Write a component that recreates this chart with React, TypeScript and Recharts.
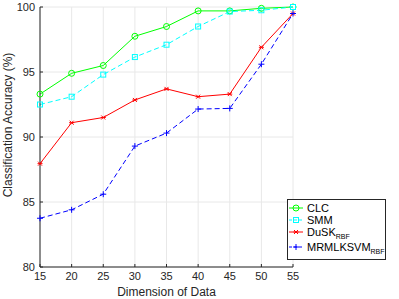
import React from "react";
import { CartesianGrid, Legend, Line, LineChart, XAxis, YAxis } from "recharts";

const dims = [15, 20, 25, 30, 35, 40, 45, 50, 55];
const clc = [93.3, 94.9, 95.5, 97.75, 98.5, 99.7, 99.7, 99.9, 100];
const smm = [92.5, 93.1, 94.8, 96.15, 97.1, 98.5, 99.65, 99.75, 100];
const dusk = [87.95, 91.1, 91.5, 92.85, 93.7, 93.1, 93.3, 96.9, 99.5];
const mrml = [83.75, 84.4, 85.6, 89.3, 90.3, 92.15, 92.2, 95.6, 99.5];
const xTicks = [15, 20, 25, 30, 35, 40, 45, 50, 55];
const yTicks = [80, 85, 90, 95, 100];

const data = dims.map((d, i) => ({ dim: d, clc: clc[i], smm: smm[i], dusk: dusk[i], mrml: mrml[i] }));

const font = "'Liberation Sans', Arial, sans-serif";
const axisColor = "#262626";

const Circle = (p: any) => (
  <circle key={p.index} cx={p.cx} cy={p.cy} r={3} fill="none" stroke="#00ff00" strokeWidth={1} />
);
const Square = (p: any) => (
  <rect key={p.index} x={p.cx - 2.5} y={p.cy - 2.5} width={5} height={5} fill="none" stroke="#00ffff" strokeWidth={1} />
);
const Star = (p: any) => (
  <path
    key={p.index}
    d={`M${p.cx - 2},${p.cy - 2}L${p.cx + 2},${p.cy + 2}M${p.cx - 2},${p.cy + 2}L${p.cx + 2},${p.cy - 2}M${p.cx - 2.5},${p.cy}L${p.cx + 2.5},${p.cy}`}
    stroke="#ff0000"
    strokeWidth={1}
  />
);
const Plus = (p: any) => (
  <path key={p.index} d={`M${p.cx - 3},${p.cy}L${p.cx + 3},${p.cy}M${p.cx},${p.cy - 3}L${p.cx},${p.cy + 3}`} stroke="#0000ff" strokeWidth={1} />
);

const legendItems = [
  { name: "CLC", sub: "", color: "#00ff00", dash: undefined, Mark: Circle },
  { name: "SMM", sub: "", color: "#00ffff", dash: "3 2", Mark: Square },
  { name: "DuSK", sub: "RBF", color: "#ff0000", dash: undefined, Mark: Star },
  { name: "MRMLKSVM", sub: "RBF", color: "#0000ff", dash: "3 2", Mark: Plus },
];

function LegendBox() {
  const rows = [9, 21, 33, 48];
  return (
    <svg width={99} height={61} style={{ display: "block" }}>
      <rect x={0.5} y={0.5} width={98} height={60} fill="#fff" stroke={axisColor} strokeWidth={1} />
      {legendItems.map((it, i) => (
        <g key={it.name}>
          <line x1={2} x2={16} y1={rows[i]} y2={rows[i]} stroke={it.color} strokeWidth={1} strokeDasharray={it.dash} />
          <it.Mark cx={9} cy={rows[i]} index={i} />
          <text x={20} y={rows[i] + 4} fontSize={11} fill="#000" fontFamily={font}>
            {it.name}
            {it.sub && (
              <tspan fontSize={7} dy={3}>
                {it.sub}
              </tspan>
            )}
          </text>
        </g>
      ))}
    </svg>
  );
}

const YLabel = () => (
  <text
    x={12}
    y={125}
    transform="rotate(-90 12 125)"
    textAnchor="middle"
    fontSize={12}
    fill={axisColor}
    fontFamily={font}
  >
    Classification Accuracy (%)
  </text>
);

export default function App() {
  return (
    <div style={{ position: "absolute", left: 0, top: 0, background: "#fff" }}>
      <LineChart width={399} height={299} data={data} margin={{ top: 7, right: 7, left: 0, bottom: 0 }}>
        <CartesianGrid stroke="#e8e8e8" strokeWidth={1} />
        <XAxis
          dataKey="dim"
          type="number"
          domain={[15, 55]}
          ticks={xTicks}
          height={32}
          stroke={axisColor}
          tickSize={-3}
          tickMargin={8}
          tick={{ fontSize: 11, fill: axisColor, fontFamily: font }}
          label={{ value: "Dimension of Data", position: "insideBottom", offset: 3, fontSize: 12, fill: axisColor, fontFamily: font }}
        />
        <XAxis xAxisId="top" dataKey="dim" type="number" domain={[15, 55]} orientation="top" height={0} ticks={xTicks} tick={false} tickSize={-3} stroke={axisColor} />
        <YAxis
          type="number"
          domain={[80, 100]}
          ticks={yTicks}
          width={40}
          stroke={axisColor}
          tickSize={-3}
          tickMargin={8}
          tick={{ fontSize: 11, fill: axisColor, fontFamily: font }}
          label={YLabel}
        />
        <YAxis yAxisId="right" type="number" domain={[80, 100]} orientation="right" width={0} ticks={yTicks} tick={false} tickSize={-3} stroke={axisColor} />
        <Legend
          layout="vertical"
          align="right"
          verticalAlign="bottom"
          wrapperStyle={{ position: "absolute", left: 287, top: 199, width: 99, bottom: "auto" }}
          content={() => <LegendBox />}
        />
        <Line dataKey="clc" stroke="#00ff00" strokeWidth={1} dot={Circle} isAnimationActive={false} />
        <Line dataKey="smm" stroke="#00ffff" strokeWidth={1} strokeDasharray="5 3" dot={Square} isAnimationActive={false} />
        <Line dataKey="dusk" stroke="#ff0000" strokeWidth={1} dot={Star} isAnimationActive={false} />
        <Line dataKey="mrml" stroke="#0000ff" strokeWidth={1} strokeDasharray="5 3" dot={Plus} isAnimationActive={false} />
      </LineChart>
    </div>
  );
}
